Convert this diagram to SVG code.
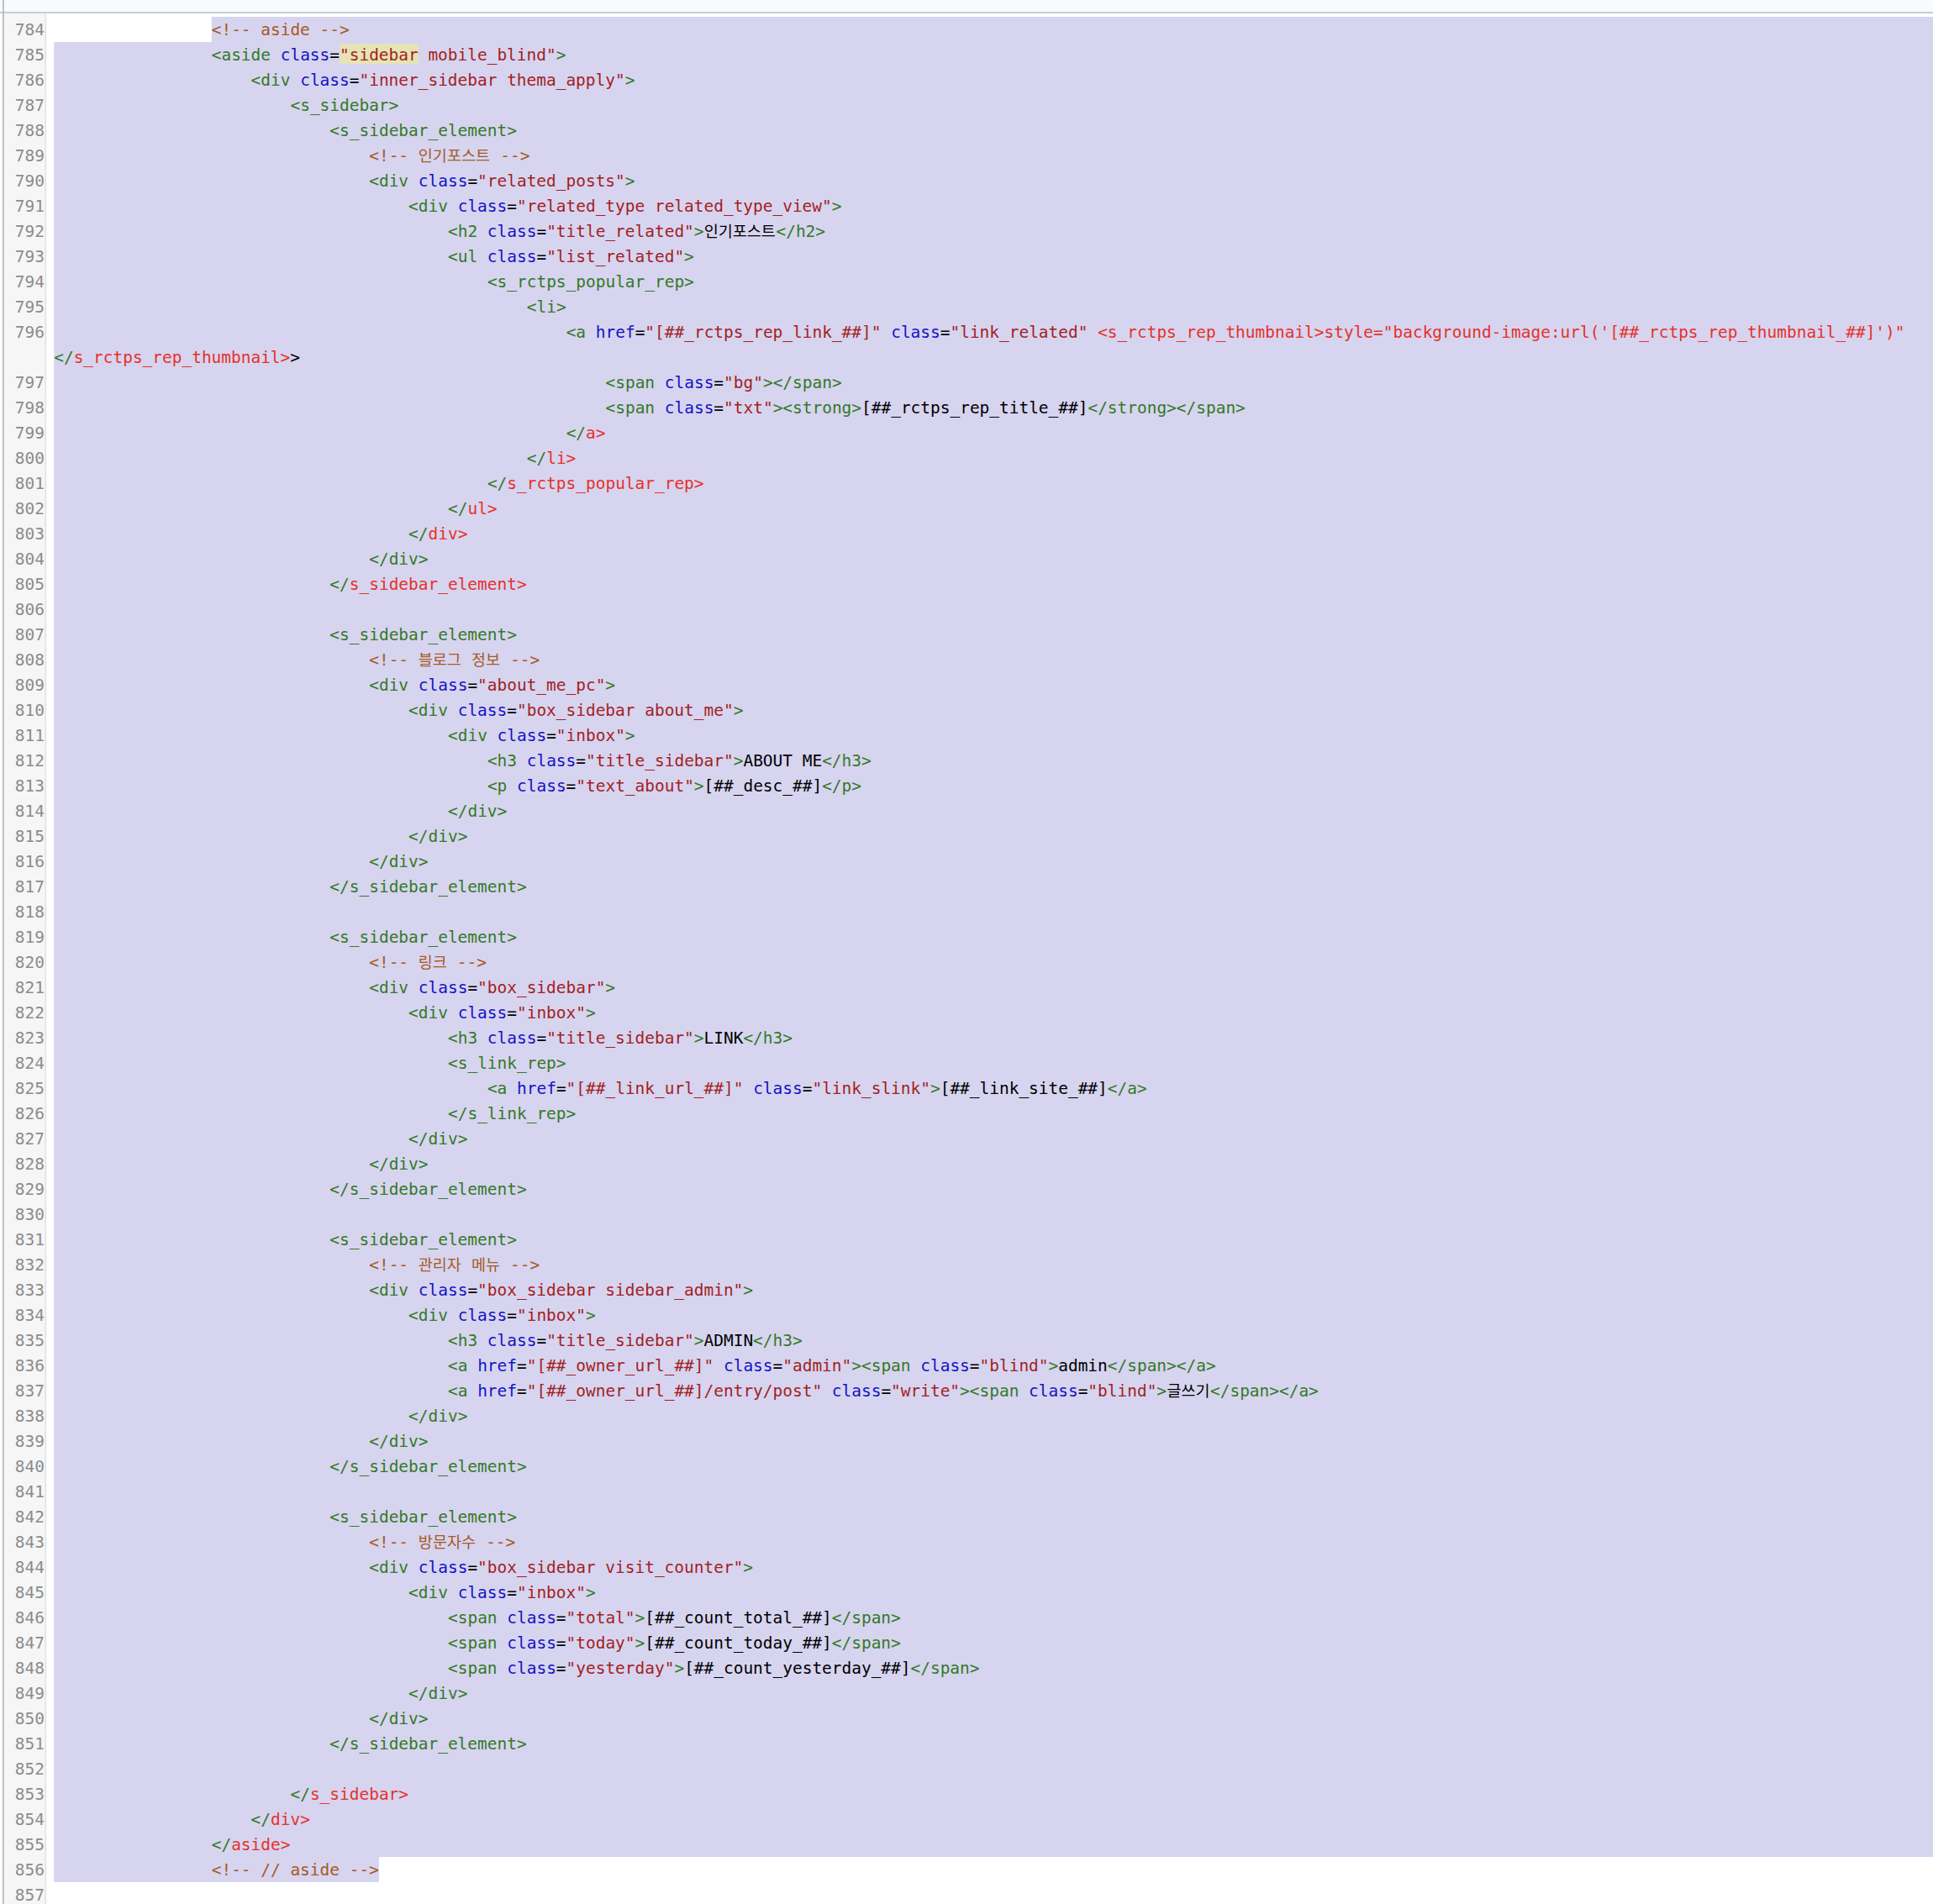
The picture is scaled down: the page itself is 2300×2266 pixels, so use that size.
<svg xmlns="http://www.w3.org/2000/svg" width="2300" height="2266" viewBox="0 0 2300 2266" xml:space="preserve">
<style>
.t{font-family:"DejaVu Sans Mono","Liberation Mono",monospace;font-size:19.47px;fill:#000}
.k{font-family:"Noto Sans CJK KR","Noto Sans CJK SC",sans-serif;font-size:18.6px}
.g{fill:#347a26}.b{fill:#1414c4}.v{fill:#a31f1f}.c{fill:#a55a24}.r{fill:#e5322a}.n{fill:#000}
.ln{font-family:"DejaVu Sans Mono","Liberation Mono",monospace;font-size:19.47px;fill:#8c8c8c;text-anchor:end}
.hl{fill:#d7d4f0}
</style>
<rect x="0" y="0" width="2300" height="2266" fill="#ffffff"/>
<g id="chrome">
<rect x="0" y="0" width="2300" height="14" fill="#f9fafc"/>
<rect x="0" y="14" width="2300" height="2" fill="#c6cdd9"/>
<rect x="5" y="16" width="49" height="2250" fill="#f6f6f6"/>
<rect x="53.5" y="16" width="1.6" height="2250" fill="#e2e2e2"/>
<rect x="3" y="0" width="1.7" height="2266" fill="#b5b5b5"/>
</g>
<g id="selection">
<rect class="hl" x="251.72" y="20" width="2048.28" height="30"/>
<rect class="hl" x="64.2" y="50" width="2235.8" height="2160"/>
<rect class="hl" x="64.2" y="2210" width="386.76" height="30"/>
<rect x="404.08" y="52" width="93.76" height="24" fill="#e6e3b6"/>
</g>
<g id="line-numbers">
<text class="ln" x="53" y="42.3">784</text>
<text class="ln" x="53" y="72.3">785</text>
<text class="ln" x="53" y="102.3">786</text>
<text class="ln" x="53" y="132.3">787</text>
<text class="ln" x="53" y="162.3">788</text>
<text class="ln" x="53" y="192.3">789</text>
<text class="ln" x="53" y="222.3">790</text>
<text class="ln" x="53" y="252.3">791</text>
<text class="ln" x="53" y="282.3">792</text>
<text class="ln" x="53" y="312.3">793</text>
<text class="ln" x="53" y="342.3">794</text>
<text class="ln" x="53" y="372.3">795</text>
<text class="ln" x="53" y="402.3">796</text>
<text class="ln" x="53" y="462.3">797</text>
<text class="ln" x="53" y="492.3">798</text>
<text class="ln" x="53" y="522.3">799</text>
<text class="ln" x="53" y="552.3">800</text>
<text class="ln" x="53" y="582.3">801</text>
<text class="ln" x="53" y="612.3">802</text>
<text class="ln" x="53" y="642.3">803</text>
<text class="ln" x="53" y="672.3">804</text>
<text class="ln" x="53" y="702.3">805</text>
<text class="ln" x="53" y="732.3">806</text>
<text class="ln" x="53" y="762.3">807</text>
<text class="ln" x="53" y="792.3">808</text>
<text class="ln" x="53" y="822.3">809</text>
<text class="ln" x="53" y="852.3">810</text>
<text class="ln" x="53" y="882.3">811</text>
<text class="ln" x="53" y="912.3">812</text>
<text class="ln" x="53" y="942.3">813</text>
<text class="ln" x="53" y="972.3">814</text>
<text class="ln" x="53" y="1002.3">815</text>
<text class="ln" x="53" y="1032.3">816</text>
<text class="ln" x="53" y="1062.3">817</text>
<text class="ln" x="53" y="1092.3">818</text>
<text class="ln" x="53" y="1122.3">819</text>
<text class="ln" x="53" y="1152.3">820</text>
<text class="ln" x="53" y="1182.3">821</text>
<text class="ln" x="53" y="1212.3">822</text>
<text class="ln" x="53" y="1242.3">823</text>
<text class="ln" x="53" y="1272.3">824</text>
<text class="ln" x="53" y="1302.3">825</text>
<text class="ln" x="53" y="1332.3">826</text>
<text class="ln" x="53" y="1362.3">827</text>
<text class="ln" x="53" y="1392.3">828</text>
<text class="ln" x="53" y="1422.3">829</text>
<text class="ln" x="53" y="1452.3">830</text>
<text class="ln" x="53" y="1482.3">831</text>
<text class="ln" x="53" y="1512.3">832</text>
<text class="ln" x="53" y="1542.3">833</text>
<text class="ln" x="53" y="1572.3">834</text>
<text class="ln" x="53" y="1602.3">835</text>
<text class="ln" x="53" y="1632.3">836</text>
<text class="ln" x="53" y="1662.3">837</text>
<text class="ln" x="53" y="1692.3">838</text>
<text class="ln" x="53" y="1722.3">839</text>
<text class="ln" x="53" y="1752.3">840</text>
<text class="ln" x="53" y="1782.3">841</text>
<text class="ln" x="53" y="1812.3">842</text>
<text class="ln" x="53" y="1842.3">843</text>
<text class="ln" x="53" y="1872.3">844</text>
<text class="ln" x="53" y="1902.3">845</text>
<text class="ln" x="53" y="1932.3">846</text>
<text class="ln" x="53" y="1962.3">847</text>
<text class="ln" x="53" y="1992.3">848</text>
<text class="ln" x="53" y="2022.3">849</text>
<text class="ln" x="53" y="2052.3">850</text>
<text class="ln" x="53" y="2082.3">851</text>
<text class="ln" x="53" y="2112.3">852</text>
<text class="ln" x="53" y="2142.3">853</text>
<text class="ln" x="53" y="2172.3">854</text>
<text class="ln" x="53" y="2202.3">855</text>
<text class="ln" x="53" y="2232.3">856</text>
<text class="ln" x="53" y="2262.3">857</text>
</g>
<g id="code">
<text class="t c" x="251.72" y="42.3">&lt;!-- aside --&gt;</text>
<text class="t" x="251.72" y="72.3"><tspan class="g">&lt;aside</tspan> <tspan class="b">class</tspan>=<tspan class="v">"sidebar mobile_blind"</tspan><tspan class="g">&gt;</tspan></text>
<text class="t" x="298.6" y="102.3"><tspan class="g">&lt;div</tspan> <tspan class="b">class</tspan>=<tspan class="v">"inner_sidebar thema_apply"</tspan><tspan class="g">&gt;</tspan></text>
<text class="t g" x="345.48" y="132.3">&lt;s_sidebar&gt;</text>
<text class="t g" x="392.36" y="162.3">&lt;s_sidebar_element&gt;</text>
<text class="t c" x="439.24" y="192.3">&lt;!-- <tspan class="k" x="497.84" textLength="85.2" lengthAdjust="spacingAndGlyphs">인기포스트</tspan><tspan x="583.59"> --&gt;</tspan></text>
<text class="t" x="439.24" y="222.3"><tspan class="g">&lt;div</tspan> <tspan class="b">class</tspan>=<tspan class="v">"related_posts"</tspan><tspan class="g">&gt;</tspan></text>
<text class="t" x="486.12" y="252.3"><tspan class="g">&lt;div</tspan> <tspan class="b">class</tspan>=<tspan class="v">"related_type related_type_view"</tspan><tspan class="g">&gt;</tspan></text>
<text class="t" x="533" y="282.3"><tspan class="g">&lt;h2</tspan> <tspan class="b">class</tspan>=<tspan class="v">"title_related"</tspan><tspan class="g">&gt;</tspan><tspan class="k n" x="837.72" textLength="85.2" lengthAdjust="spacingAndGlyphs">인기포스트</tspan><tspan class="g" x="923.47">&lt;/h2&gt;</tspan></text>
<text class="t" x="533" y="312.3"><tspan class="g">&lt;ul</tspan> <tspan class="b">class</tspan>=<tspan class="v">"list_related"</tspan><tspan class="g">&gt;</tspan></text>
<text class="t g" x="579.88" y="342.3">&lt;s_rctps_popular_rep&gt;</text>
<text class="t g" x="626.76" y="372.3">&lt;li&gt;</text>
<text class="t" x="673.64" y="402.3"><tspan class="g">&lt;a</tspan> <tspan class="b">href</tspan>=<tspan class="v">"[##_rctps_rep_link_##]"</tspan> <tspan class="b">class</tspan>=<tspan class="v">"link_related"</tspan> <tspan class="r">&lt;s_rctps_rep_thumbnail&gt;style="background-image:url('[##_rctps_rep_thumbnail_##]')"</tspan></text>
<text class="t" x="64.2" y="432.3"><tspan class="g">&lt;/</tspan><tspan class="r">s_rctps_rep_thumbnail&gt;</tspan>&gt;</text>
<text class="t" x="720.52" y="462.3"><tspan class="g">&lt;span</tspan> <tspan class="b">class</tspan>=<tspan class="v">"bg"</tspan><tspan class="g">&gt;&lt;/span&gt;</tspan></text>
<text class="t" x="720.52" y="492.3"><tspan class="g">&lt;span</tspan> <tspan class="b">class</tspan>=<tspan class="v">"txt"</tspan><tspan class="g">&gt;&lt;strong&gt;</tspan>[##_rctps_rep_title_##]<tspan class="g">&lt;/strong&gt;&lt;/span&gt;</tspan></text>
<text class="t" x="673.64" y="522.3"><tspan class="g">&lt;/</tspan><tspan class="r">a&gt;</tspan></text>
<text class="t" x="626.76" y="552.3"><tspan class="g">&lt;/</tspan><tspan class="r">li&gt;</tspan></text>
<text class="t" x="579.88" y="582.3"><tspan class="g">&lt;/</tspan><tspan class="r">s_rctps_popular_rep&gt;</tspan></text>
<text class="t" x="533" y="612.3"><tspan class="g">&lt;/</tspan><tspan class="r">ul&gt;</tspan></text>
<text class="t" x="486.12" y="642.3"><tspan class="g">&lt;/</tspan><tspan class="r">div&gt;</tspan></text>
<text class="t g" x="439.24" y="672.3">&lt;/div&gt;</text>
<text class="t" x="392.36" y="702.3"><tspan class="g">&lt;/</tspan><tspan class="r">s_sidebar_element&gt;</tspan></text>
<text class="t g" x="392.36" y="762.3">&lt;s_sidebar_element&gt;</text>
<text class="t c" x="439.24" y="792.3">&lt;!-- <tspan class="k" x="497.84" textLength="51" lengthAdjust="spacingAndGlyphs">블로그</tspan><tspan x="549.29"> </tspan><tspan class="k" x="561.01" textLength="34" lengthAdjust="spacingAndGlyphs">정보</tspan><tspan x="595.31"> --&gt;</tspan></text>
<text class="t" x="439.24" y="822.3"><tspan class="g">&lt;div</tspan> <tspan class="b">class</tspan>=<tspan class="v">"about_me_pc"</tspan><tspan class="g">&gt;</tspan></text>
<text class="t" x="486.12" y="852.3"><tspan class="g">&lt;div</tspan> <tspan class="b">class</tspan>=<tspan class="v">"box_sidebar about_me"</tspan><tspan class="g">&gt;</tspan></text>
<text class="t" x="533" y="882.3"><tspan class="g">&lt;div</tspan> <tspan class="b">class</tspan>=<tspan class="v">"inbox"</tspan><tspan class="g">&gt;</tspan></text>
<text class="t" x="579.88" y="912.3"><tspan class="g">&lt;h3</tspan> <tspan class="b">class</tspan>=<tspan class="v">"title_sidebar"</tspan><tspan class="g">&gt;</tspan>ABOUT ME<tspan class="g">&lt;/h3&gt;</tspan></text>
<text class="t" x="579.88" y="942.3"><tspan class="g">&lt;p</tspan> <tspan class="b">class</tspan>=<tspan class="v">"text_about"</tspan><tspan class="g">&gt;</tspan>[##_desc_##]<tspan class="g">&lt;/p&gt;</tspan></text>
<text class="t g" x="533" y="972.3">&lt;/div&gt;</text>
<text class="t g" x="486.12" y="1002.3">&lt;/div&gt;</text>
<text class="t g" x="439.24" y="1032.3">&lt;/div&gt;</text>
<text class="t g" x="392.36" y="1062.3">&lt;/s_sidebar_element&gt;</text>
<text class="t g" x="392.36" y="1122.3">&lt;s_sidebar_element&gt;</text>
<text class="t c" x="439.24" y="1152.3">&lt;!-- <tspan class="k" x="497.84" textLength="34" lengthAdjust="spacingAndGlyphs">링크</tspan><tspan x="532.14"> --&gt;</tspan></text>
<text class="t" x="439.24" y="1182.3"><tspan class="g">&lt;div</tspan> <tspan class="b">class</tspan>=<tspan class="v">"box_sidebar"</tspan><tspan class="g">&gt;</tspan></text>
<text class="t" x="486.12" y="1212.3"><tspan class="g">&lt;div</tspan> <tspan class="b">class</tspan>=<tspan class="v">"inbox"</tspan><tspan class="g">&gt;</tspan></text>
<text class="t" x="533" y="1242.3"><tspan class="g">&lt;h3</tspan> <tspan class="b">class</tspan>=<tspan class="v">"title_sidebar"</tspan><tspan class="g">&gt;</tspan>LINK<tspan class="g">&lt;/h3&gt;</tspan></text>
<text class="t g" x="533" y="1272.3">&lt;s_link_rep&gt;</text>
<text class="t" x="579.88" y="1302.3"><tspan class="g">&lt;a</tspan> <tspan class="b">href</tspan>=<tspan class="v">"[##_link_url_##]"</tspan> <tspan class="b">class</tspan>=<tspan class="v">"link_slink"</tspan><tspan class="g">&gt;</tspan>[##_link_site_##]<tspan class="g">&lt;/a&gt;</tspan></text>
<text class="t g" x="533" y="1332.3">&lt;/s_link_rep&gt;</text>
<text class="t g" x="486.12" y="1362.3">&lt;/div&gt;</text>
<text class="t g" x="439.24" y="1392.3">&lt;/div&gt;</text>
<text class="t g" x="392.36" y="1422.3">&lt;/s_sidebar_element&gt;</text>
<text class="t g" x="392.36" y="1482.3">&lt;s_sidebar_element&gt;</text>
<text class="t c" x="439.24" y="1512.3">&lt;!-- <tspan class="k" x="497.84" textLength="51" lengthAdjust="spacingAndGlyphs">관리자</tspan><tspan x="549.29"> </tspan><tspan class="k" x="561.01" textLength="34" lengthAdjust="spacingAndGlyphs">메뉴</tspan><tspan x="595.31"> --&gt;</tspan></text>
<text class="t" x="439.24" y="1542.3"><tspan class="g">&lt;div</tspan> <tspan class="b">class</tspan>=<tspan class="v">"box_sidebar sidebar_admin"</tspan><tspan class="g">&gt;</tspan></text>
<text class="t" x="486.12" y="1572.3"><tspan class="g">&lt;div</tspan> <tspan class="b">class</tspan>=<tspan class="v">"inbox"</tspan><tspan class="g">&gt;</tspan></text>
<text class="t" x="533" y="1602.3"><tspan class="g">&lt;h3</tspan> <tspan class="b">class</tspan>=<tspan class="v">"title_sidebar"</tspan><tspan class="g">&gt;</tspan>ADMIN<tspan class="g">&lt;/h3&gt;</tspan></text>
<text class="t" x="533" y="1632.3"><tspan class="g">&lt;a</tspan> <tspan class="b">href</tspan>=<tspan class="v">"[##_owner_url_##]"</tspan> <tspan class="b">class</tspan>=<tspan class="v">"admin"</tspan><tspan class="g">&gt;&lt;span</tspan> <tspan class="b">class</tspan>=<tspan class="v">"blind"</tspan><tspan class="g">&gt;</tspan>admin<tspan class="g">&lt;/span&gt;&lt;/a&gt;</tspan></text>
<text class="t" x="533" y="1662.3"><tspan class="g">&lt;a</tspan> <tspan class="b">href</tspan>=<tspan class="v">"[##_owner_url_##]/entry/post"</tspan> <tspan class="b">class</tspan>=<tspan class="v">"write"</tspan><tspan class="g">&gt;&lt;span</tspan> <tspan class="b">class</tspan>=<tspan class="v">"blind"</tspan><tspan class="g">&gt;</tspan><tspan class="k n" x="1388.56" textLength="51" lengthAdjust="spacingAndGlyphs">글쓰기</tspan><tspan class="g" x="1440.01">&lt;/span&gt;&lt;/a&gt;</tspan></text>
<text class="t g" x="486.12" y="1692.3">&lt;/div&gt;</text>
<text class="t g" x="439.24" y="1722.3">&lt;/div&gt;</text>
<text class="t g" x="392.36" y="1752.3">&lt;/s_sidebar_element&gt;</text>
<text class="t g" x="392.36" y="1812.3">&lt;s_sidebar_element&gt;</text>
<text class="t c" x="439.24" y="1842.3">&lt;!-- <tspan class="k" x="497.84" textLength="68.2" lengthAdjust="spacingAndGlyphs">방문자수</tspan><tspan x="566.44"> --&gt;</tspan></text>
<text class="t" x="439.24" y="1872.3"><tspan class="g">&lt;div</tspan> <tspan class="b">class</tspan>=<tspan class="v">"box_sidebar visit_counter"</tspan><tspan class="g">&gt;</tspan></text>
<text class="t" x="486.12" y="1902.3"><tspan class="g">&lt;div</tspan> <tspan class="b">class</tspan>=<tspan class="v">"inbox"</tspan><tspan class="g">&gt;</tspan></text>
<text class="t" x="533" y="1932.3"><tspan class="g">&lt;span</tspan> <tspan class="b">class</tspan>=<tspan class="v">"total"</tspan><tspan class="g">&gt;</tspan>[##_count_total_##]<tspan class="g">&lt;/span&gt;</tspan></text>
<text class="t" x="533" y="1962.3"><tspan class="g">&lt;span</tspan> <tspan class="b">class</tspan>=<tspan class="v">"today"</tspan><tspan class="g">&gt;</tspan>[##_count_today_##]<tspan class="g">&lt;/span&gt;</tspan></text>
<text class="t" x="533" y="1992.3"><tspan class="g">&lt;span</tspan> <tspan class="b">class</tspan>=<tspan class="v">"yesterday"</tspan><tspan class="g">&gt;</tspan>[##_count_yesterday_##]<tspan class="g">&lt;/span&gt;</tspan></text>
<text class="t g" x="486.12" y="2022.3">&lt;/div&gt;</text>
<text class="t g" x="439.24" y="2052.3">&lt;/div&gt;</text>
<text class="t g" x="392.36" y="2082.3">&lt;/s_sidebar_element&gt;</text>
<text class="t" x="345.48" y="2142.3"><tspan class="g">&lt;/</tspan><tspan class="r">s_sidebar&gt;</tspan></text>
<text class="t" x="298.6" y="2172.3"><tspan class="g">&lt;/</tspan><tspan class="r">div&gt;</tspan></text>
<text class="t" x="251.72" y="2202.3"><tspan class="g">&lt;/</tspan><tspan class="r">aside&gt;</tspan></text>
<text class="t c" x="251.72" y="2232.3">&lt;!-- // aside --&gt;</text>
</g>
</svg>
